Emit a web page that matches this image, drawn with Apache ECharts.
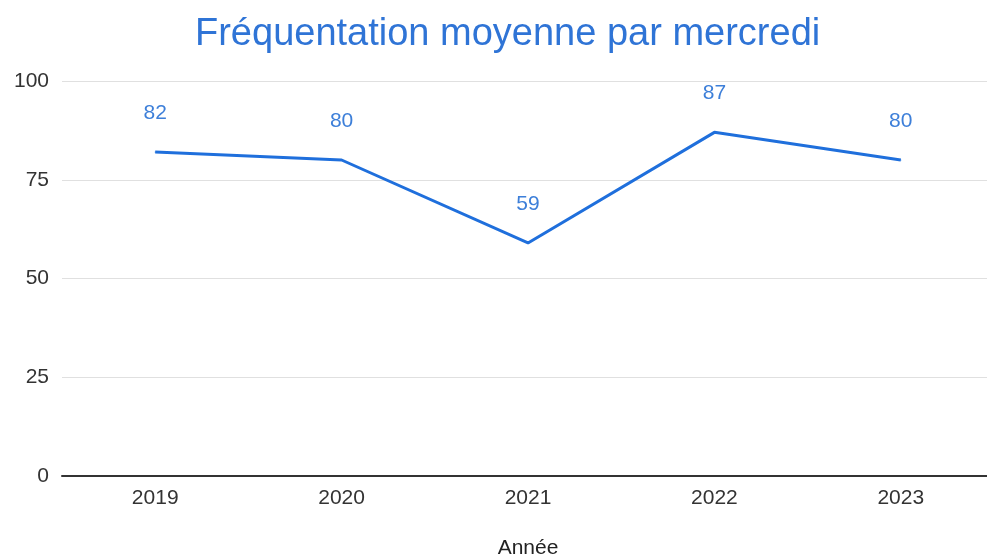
<!DOCTYPE html>
<html>
<head>
<meta charset="utf-8">
<script src="https://cdn.jsdelivr.net/npm/echarts@6/dist/echarts.min.js"></script>
<style>
  html, body { margin: 0; padding: 0; background: #fff; }
  #main { width: 987px; height: 557px; }
</style>
</head>
<body>
<div id="main"></div>
<script>
var chartDom = document.getElementById("main");
var myChart = echarts.init(chartDom);

const years = ["2019", "2020", "2021", "2022", "2023"];
const attendance = [82, 80, 59, 87, 80];
const yTicks = [0, 25, 50, 75, 100];

const font = "Liberation Sans, Arial, sans-serif";

var option = {
  backgroundColor: "#fff",
  title: {
    text: "Fréquentation moyenne par mercredi",
    left: 190,
    top: 11,
    textStyle: {
      color: "#2f74d6",
      fontSize: 38,
      fontWeight: "normal",
      fontFamily: font,
    },
  },
  grid: {
    left: 62,
    top: 81,
    width: 932,
    height: 395,
    outerBoundsMode: "none",
  },
  xAxis: {
    type: "category",
    data: years,
    boundaryGap: true,
    name: "Année",
    nameLocation: "middle",
    nameGap: 62,
    nameTextStyle: { color: "#222", fontSize: 21, fontFamily: font },
    axisLine: { lineStyle: { color: "#333", width: 2 } },
    axisTick: { show: false },
    axisLabel: { color: "#333", fontSize: 21, margin: 12, fontFamily: font },
  },
  yAxis: {
    type: "value",
    min: yTicks[0],
    max: yTicks[yTicks.length - 1],
    interval: 25,
    axisLine: { show: false },
    axisTick: { show: false },
    axisLabel: { color: "#333", fontSize: 21, margin: 13, fontFamily: font },
    splitLine: { lineStyle: { color: "#e0e0e0", width: 1 } },
  },
  series: [
    {
      type: "line",
      data: attendance,
      symbol: "circle",
      symbolSize: 1,
      itemStyle: { color: "#1f6fdc" },
      lineStyle: { color: "#1f6fdc", width: 3 },
      label: {
        show: true,
        position: "top",
        distance: 28,
        color: "#3d7fd9",
        fontSize: 21,
        fontFamily: font,
      },
    },
  ],
};

myChart.setOption(option);
</script>
</body>
</html>
